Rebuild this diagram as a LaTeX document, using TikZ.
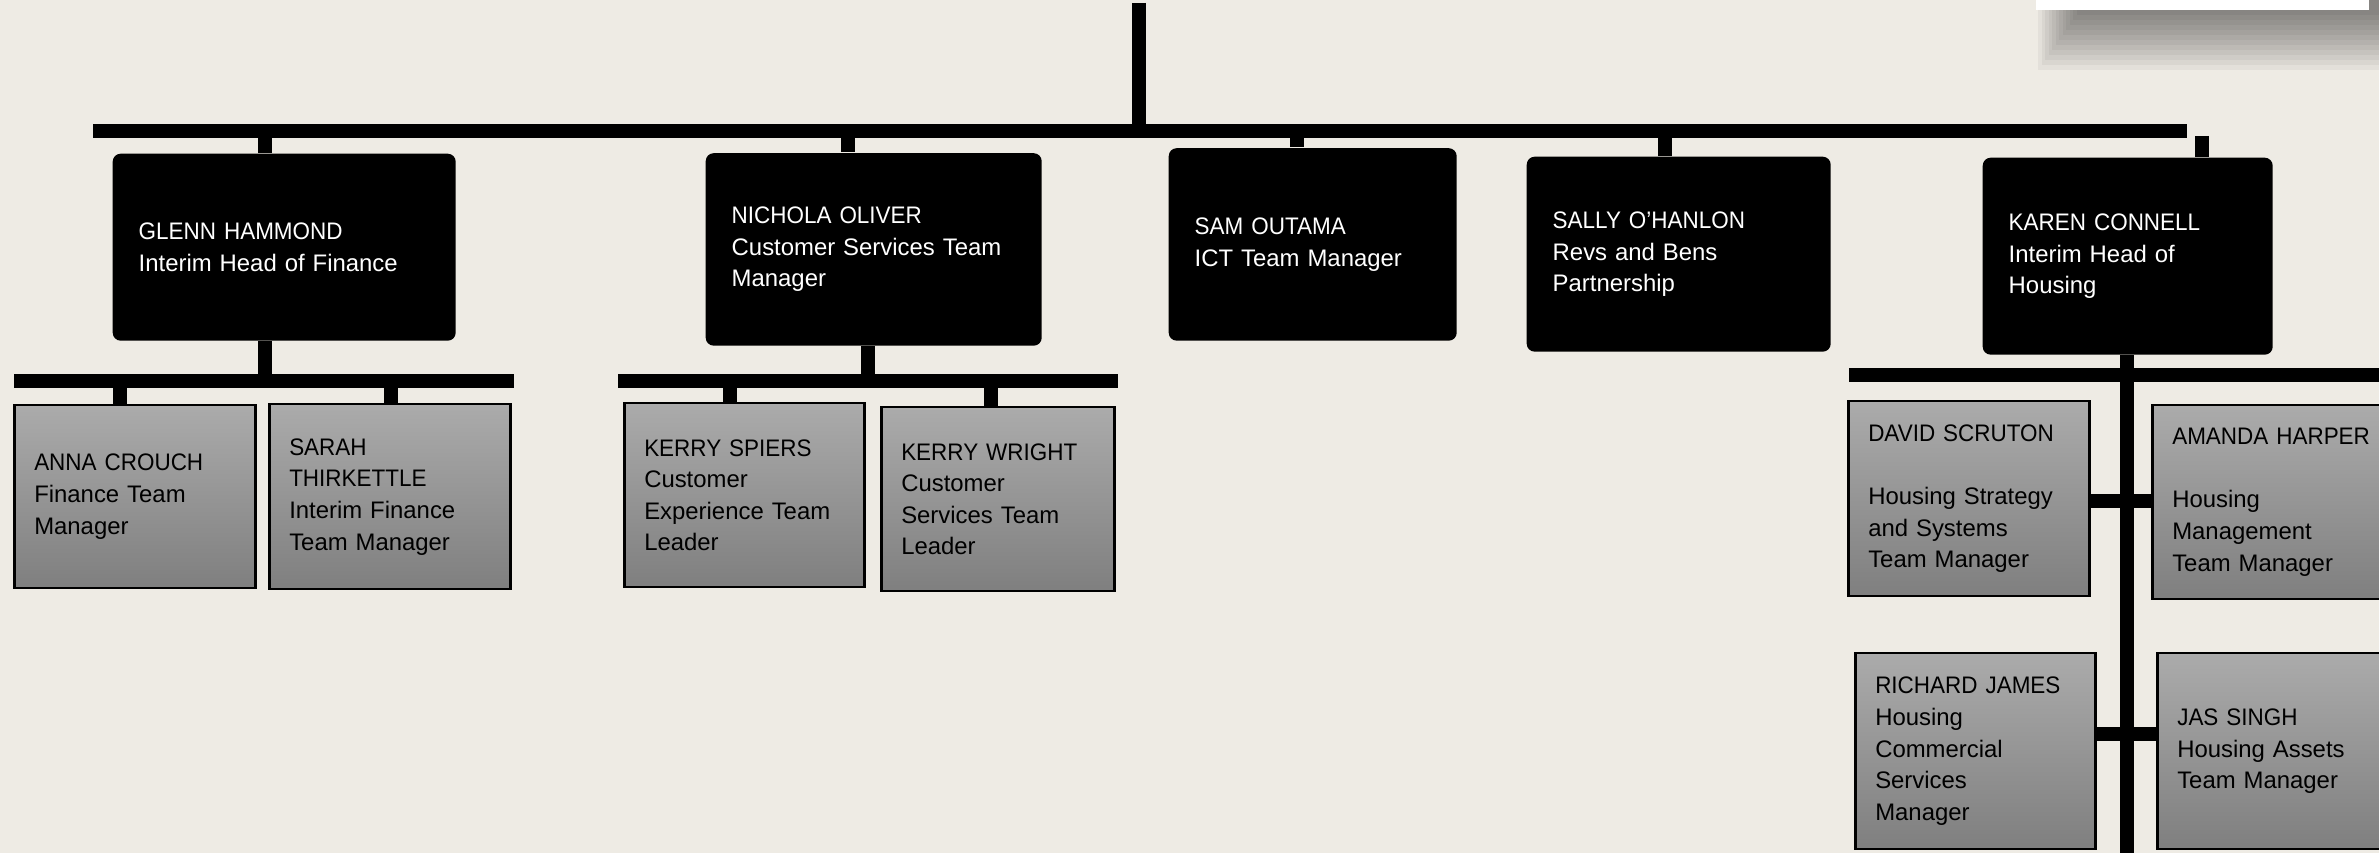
\documentclass[tikz,border=0pt]{standalone}
\usepackage{fontspec}
\setmainfont{Liberation Sans}
\newfontfamily\namefont{Liberation Sans}[FakeStretch=0.94]
\usepackage{xcolor}
\usepackage{tikz}
\usetikzlibrary{positioning}

\definecolor{paper}{RGB}{238,235,228}
\definecolor{boxtop}{RGB}{171,171,171}
\definecolor{boxbot}{RGB}{127,127,127}

\newcommand{\who}[1]{{\namefont #1}}

\begin{document}
\begin{tikzpicture}
            [x=1mm, y=-1mm,
             head/.style = {fill=black, rounded corners=0.8mm, text=white, align=left, anchor=north west,
                            inner xsep=2.6mm, inner ysep=0pt, font=\fontsize{6.8}{9}\selectfont},
             staff/.style = {draw=black, line width=0.25mm, top color=boxtop, bottom color=boxbot, align=left,
                             anchor=north west, inner xsep=2mm, inner ysep=0pt, font=\fontsize{6.8}{9}\selectfont},
             bar/.style = {line width=1.4mm}]

            \clip (0,0) rectangle (237.9,85.3);
            \fill[paper] (0,0) rectangle (237.9,85.3);

            % shadow of the title box
            \foreach \i in {1,...,12}
                \fill[black, opacity=0.045] (208.0-0.35*\i,0) rectangle (237.9,1.0+0.5*\i);
            \fill[white] (203.6,0) rectangle (236.9,1.0);

            \node[head, text width=29.1mm, minimum height=18.7mm] (glenn) at (11.2,15.3) {\who{GLENN HAMMOND}\\Interim Head of Finance};
            \node[head, text width=28.4mm, minimum height=19.25mm] (nichola) at (70.5,15.25) {\who{NICHOLA OLIVER}\\Customer Services Team\\Manager};
            \node[head, text width=23.6mm, minimum height=19.25mm] (sam) at (116.8,14.75) {\who{SAM OUTAMA}\\ICT Team Manager};
            \node[head, text width=25.2mm, minimum height=19.5mm] (sally) at (152.6,15.6) {\who{SALLY O’HANLON}\\Revs and Bens\\Partnership};
            \node[head, text width=23.8mm, minimum height=19.7mm] (karen) at (198.2,15.7) {\who{KAREN CONNELL}\\Interim Head of\\Housing};

            \node[staff, text width=20.1mm, minimum height=18.3mm] (anna) at (1.3,40.4) {\who{ANNA CROUCH}\\Finance Team\\Manager};
            \node[staff, text width=20.1mm, minimum height=18.5mm] (sarah) at (26.8,40.3) {\who{SARAH}\\\who{THIRKETTLE}\\Interim Finance\\Team Manager};
            \node[staff, text width=20.0mm, minimum height=18.4mm] (spiers) at (62.3,40.2) {\who{KERRY SPIERS}\\Customer\\Experience Team\\Leader};
            \node[staff, text width=19.3mm, minimum height=18.4mm] (wright) at (88.0,40.6) {\who{KERRY WRIGHT}\\Customer\\Services Team\\Leader};
            \node[staff, text width=20.1mm, minimum height=19.5mm] (david) at (184.7,40.0) {\who{DAVID SCRUTON}\\[9pt]Housing Strategy\\and Systems\\Team Manager};
            \node[staff, text width=22.0mm, minimum height=19.4mm] (amanda) at (215.1,40.4) {\who{AMANDA HARPER}\\[9pt]Housing\\Management\\Team Manager};
            \node[staff, text width=20.0mm, minimum height=19.6mm] (richard) at (185.4,65.2) {\who{RICHARD JAMES}\\Housing\\Commercial\\Services\\Manager};
            \node[staff, text width=22.0mm, minimum height=19.6mm] (jas) at (215.6,65.2) {\who{JAS SINGH}\\Housing Assets\\Team Manager};

            \coordinate (top) at (113.9,0.3);
            \coordinate (barL) at (9.3,13.1);
            \coordinate (barR) at (218.7,13.1);
            \coordinate (tGlenn) at (26.5,13.1);
            \coordinate (tNichola) at (84.8,13.1);
            \coordinate (tSam) at (129.7,13.1);
            \coordinate (tSally) at (166.5,13.1);
            \coordinate (tKaren) at (220.2,13.6);

            \draw[bar] (barL) -- (barR);
            \draw[bar] (top) -- (top |- barL);
            \draw[bar] (tGlenn) -- (tGlenn |- glenn.north);
            \draw[bar] (tNichola) -- (tNichola |- nichola.north);
            \draw[bar] (tSam) -- (tSam |- sam.north);
            \draw[bar] (tSally) -- (tSally |- sally.north);
            \draw[bar] (tKaren) -- (tKaren |- karen.north);

            \coordinate (gL) at (1.4,38.1);
            \coordinate (gR) at (51.4,38.1);
            \coordinate (gMid) at (26.5,38.1);
            \draw[bar] (gL) -- (gR);
            \draw[bar] (gMid |- glenn.south) -- (gMid);
            \draw[bar] (anna.north -| 12.0,0) -- (12.0,38.1);
            \draw[bar] (sarah.north -| 39.1,0) -- (39.1,38.1);

            \coordinate (nL) at (61.8,38.1);
            \coordinate (nR) at (111.8,38.1);
            \coordinate (nMid) at (86.8,38.1);
            \draw[bar] (nL) -- (nR);
            \draw[bar] (nMid |- nichola.south) -- (nMid);
            \draw[bar] (spiers.north -| 73.0,0) -- (73.0,38.1);
            \draw[bar] (wright.north -| 99.1,0) -- (99.1,38.1);

            \coordinate (kL) at (184.9,37.5);
            \coordinate (kR) at (237.9,37.5);
            \coordinate (kEnd) at (212.7,85.3);
            \draw[bar] (kL) -- (kR);
            \draw[bar] (kEnd |- karen.south) -- (kEnd);
            \draw[bar] (david.east |- 0,50.1) -- (amanda.west |- 0,50.1);
            \draw[bar] (richard.east |- 0,73.4) -- (jas.west |- 0,73.4);

        \end{tikzpicture}
\end{document}
